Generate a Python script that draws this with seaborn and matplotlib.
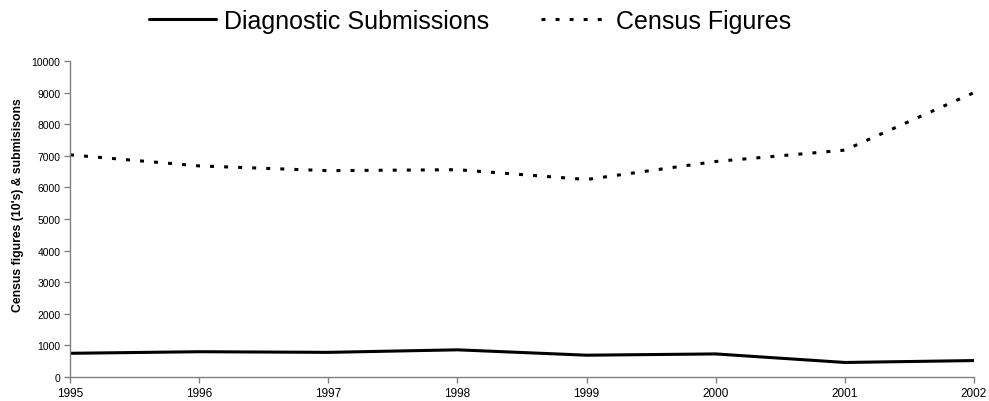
import matplotlib
matplotlib.use("Agg")
import matplotlib.pyplot as plt
import seaborn as sns
import pandas as pd

years = [1995, 1996, 1997, 1998, 1999, 2000, 2001, 2002]
diagnostic_submissions = [750, 800, 780, 860, 690, 730, 460, 520]
census_figures = [7030, 6680, 6530, 6560, 6250, 6820, 7180, 9000]
y_ticks = [0, 1000, 2000, 3000, 4000, 5000, 6000, 7000, 8000, 9000, 10000]

sns.set_theme(style="white")
plt.rcParams["font.family"] = ["Liberation Sans", "DejaVu Sans"]
plt.rcParams["text.color"] = "black"
plt.rcParams["axes.labelcolor"] = "black"

df = pd.DataFrame({
    "Year": years * 2,
    "Value": diagnostic_submissions + census_figures,
    "Series": ["Diagnostic Submissions"] * len(years) + ["Census Figures"] * len(years),
})

fig = plt.figure(figsize=(9.89, 4.02), dpi=100)
ax = fig.add_axes([70 / 989, 1 - 378 / 402, (974 - 70) / 989, (378 - 62) / 402])

sns.lineplot(
    data=df, x="Year", y="Value", hue="Series", style="Series",
    palette={"Diagnostic Submissions": "black", "Census Figures": "black"},
    dashes={"Diagnostic Submissions": "", "Census Figures": (1.3, 3.3)},
    linewidth=2.2, ax=ax, legend=True,
)

ax.set_xlim(years[0], years[-1])
ax.set_ylim(0, 10000)
ax.set_xticks(years)
ax.set_xticklabels([str(y) for y in years], fontsize=8.5)
ax.set_yticks(y_ticks)
ax.set_yticklabels([str(v) for v in y_ticks], fontsize=7.5)
ax.set_xlabel("")
ax.set_ylabel("Census figures (10's) & submisisons", fontsize=8.8, fontweight="bold")
ax.yaxis.set_label_coords(-0.051, 0.547)

for side in ["top", "right"]:
    ax.spines[side].set_visible(False)
for side in ["left", "bottom"]:
    ax.spines[side].set_color("#808080")
    ax.spines[side].set_linewidth(1)
ax.tick_params(axis="both", which="major", direction="out", length=4, width=1,
               color="#808080", labelcolor="black", left=True, bottom=True, pad=3)

handles, labels = ax.get_legend_handles_labels()
ax.get_legend().remove()
fig.legend(handles, labels, loc="center", bbox_to_anchor=(470 / 989, 1 - 22 / 402),
           ncol=2, frameon=False, fontsize=18, handlelength=2.7, handletextpad=0.3,
           columnspacing=2.1, borderpad=0)

fig.savefig("out.png", dpi=100)
